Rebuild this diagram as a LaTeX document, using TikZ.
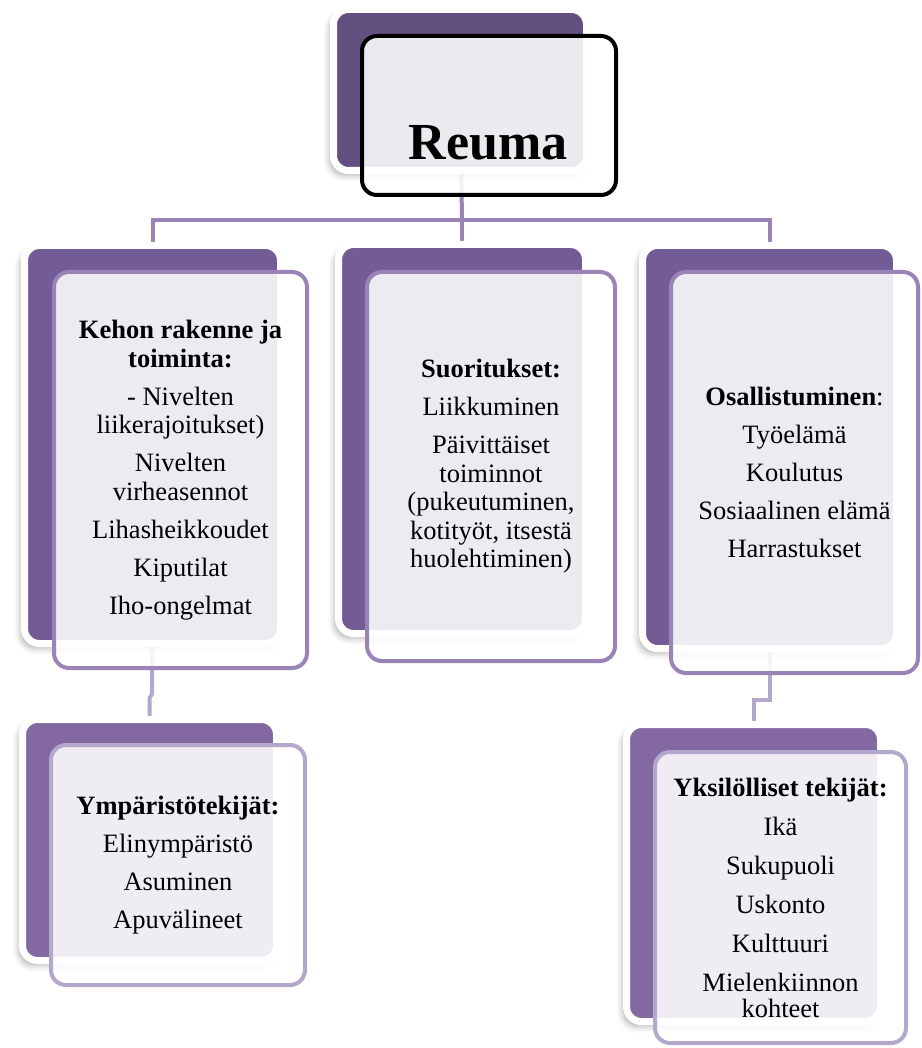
\documentclass[tikz,border=0pt]{standalone}
\usepackage{fontspec}
\setmainfont{Liberation Serif}
\usetikzlibrary{backgrounds,shadows.blur}
\definecolor{topback}{HTML}{634F80}
\definecolor{midback}{HTML}{735B95}
\definecolor{lowback}{HTML}{8468A2}
\definecolor{midline}{HTML}{9983B7}
\definecolor{lowline}{HTML}{B3A7CB}
\newcommand{\g}{\\[9.5pt]}
\newcommand{\gw}{\\[10.5pt]}
\tikzset{
  backbox/.style={draw=white, line width=7pt, rounded corners=15pt, inner sep=0pt,
    blur shadow={shadow xshift=-4pt, shadow yshift=-5pt, shadow blur radius=6pt, shadow opacity=30}},
  frontbox/.style={fill=white, fill opacity=0.88, text opacity=1, line width=4pt,
    rounded corners=15pt, inner sep=0pt, align=center, text=black,
    font=\fontsize{26.5}{28.5}\selectfont},
  conn/.style={line width=4pt},
}
\begin{document}
\begin{tikzpicture}[x=1pt,y=-1pt]
\useasboundingbox (0,0) rectangle (921,1048);
% back rectangles
\node[backbox, fill=topback, minimum width=253pt, minimum height=161pt] (topB) at (460,90) {};
\node[backbox, fill=midback, minimum width=256pt, minimum height=398pt] (leftB) at (152.5,444.5) {};
\node[backbox, fill=midback, minimum width=247pt, minimum height=389pt] (midB) at (462,439) {};
\node[backbox, fill=midback, minimum width=254pt, minimum height=403pt] (rightB) at (769.5,447) {};
\node[backbox, fill=lowback, minimum width=254pt, minimum height=241pt] (leftC) at (149.5,840) {};
\node[backbox, fill=lowback, minimum width=254pt, minimum height=297pt] (rightC) at (753.5,873) {};
% front boxes
\node[frontbox, draw=black, minimum width=254pt, minimum height=159pt] (topF) at (489,115.5) {};
\node[font=\fontsize{52}{56}\selectfont\bfseries, anchor=base] (reuma) at (488,160) {Reuma};
\node[frontbox, draw=midline, minimum width=253pt, minimum height=396pt] (leftF) at (180.5,470)
 {\textbf{Kehon rakenne ja}\\\textbf{toiminta:}\g- Nivelten\\liikerajoitukset)\g Nivelten\\virheasennot\g Lihasheikkoudet\g Kiputilat\g Iho-ongelmat};
\node[frontbox, draw=midline, minimum width=248pt, minimum height=389pt] (midF) at (491,466.5)
 {\textbf{Suoritukset:}\g Liikkuminen\g Päivittäiset\\toiminnot\\(pukeutuminen,\\kotityöt, itsestä\\huolehtiminen)};
\node[frontbox, draw=midline, minimum width=247pt, minimum height=401pt] (rightF) at (794.5,472.5)
 {\textbf{Osallistuminen}:\g Työelämä\g Koulutus\g Sosiaalinen elämä\g Harrastukset};
\node[frontbox, draw=lowline, minimum width=254pt, minimum height=240pt] (leftG) at (178,865)
 {\textbf{Ympäristötekijät:}\g Elinympäristö\g Asuminen\g Apuvälineet};
\node[frontbox, draw=lowline, minimum width=251pt, minimum height=291pt] (rightG) at (780.5,897.5)
 {\textbf{Yksilölliset tekijät:}\gw Ikä\gw Sukupuoli\gw Uskonto\gw Kulttuuri\gw Mielenkiinnon\\[-2.5pt]kohteet};
% connectors
\begin{scope}[on background layer]
\coordinate (hub) at (462,220);
\coordinate (jogL) at (152,694);
\coordinate (jogR) at (760,700);
\draw[conn, midline] (topB.center) -- (hub);
\draw[conn, midline] (hub) -| (leftB.center);
\draw[conn, midline] (hub) -| (rightB.center);
\draw[conn, midline] (hub) -- (midB.center);
\draw[conn, lowline] (leftB.center) -- (jogL) -- ++(-2.5,4) -- (leftC.center);
\draw[conn, lowline] (rightB.center) |- (jogR) -| (rightC.center);
\end{scope}
\end{tikzpicture}
\end{document}
